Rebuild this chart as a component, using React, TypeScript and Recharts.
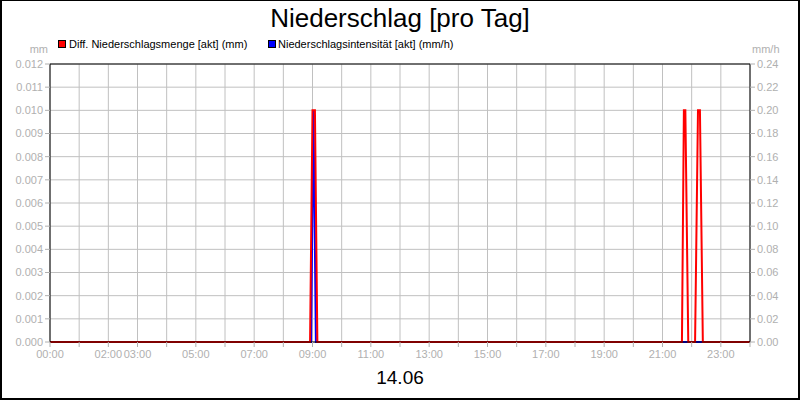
import { CartesianGrid, Line, LineChart, ReferenceLine, XAxis, YAxis } from "recharts";

const RED = "#ff0000";
const BLUE = "#0000ff";
const GRID = "#c0c0c0";
const TICK = "#b0b0b0";
const FONT = "'Liberation Sans', Arial, Helvetica, sans-serif";

// Diff. Niederschlagsmenge [akt] (mm)
const MENGE_TIME = ["00:00", "08:55", "09:00", "09:05", "09:10", "21:40", "21:44", "21:47", "21:53", "22:07", "22:13", "22:17", "22:23", "24:00"];
const MENGE_MM = [0, 0, 0.01, 0.01, 0, 0, 0.01, 0.01, 0, 0, 0.01, 0.01, 0, 0];

// Niederschlagsintensität [akt] (mm/h)
const INTENS_TIME = ["00:00", "08:57", "09:02", "09:07", "24:00"];
const INTENS_MMH = [0, 0, 0.2, 0, 0];

const HOUR_TICKS = [0, 1, 2, 3, 4, 5, 6, 7, 8, 9, 10, 11, 12, 13, 14, 15, 16, 17, 18, 19, 20, 21, 22, 23, 24];
const HOUR_LABELS = ["00:00", "02:00", "03:00", "05:00", "07:00", "09:00", "11:00", "13:00", "15:00", "17:00", "19:00", "21:00", "23:00"];
const MM_TICKS = [0, 0.001, 0.002, 0.003, 0.004, 0.005, 0.006, 0.007, 0.008, 0.009, 0.01, 0.011, 0.012];
const MMH_TICKS = [0, 0.02, 0.04, 0.06, 0.08, 0.1, 0.12, 0.14, 0.16, 0.18, 0.2, 0.22, 0.24];

const toHours = (s: string) => {
  const [h, m] = s.split(":").map(Number);
  return h + m / 60;
};
const menge = MENGE_TIME.map((t, i) => ({ t: toHours(t), v: MENGE_MM[i] }));
const intens = INTENS_TIME.map((t, i) => ({ t: toHours(t), v: INTENS_MMH[i] }));

const hourLabel = (h: number) => {
  const s = `${String(h).padStart(2, "0")}:00`;
  return HOUR_LABELS.includes(s) ? s : "";
};

const tickStyle = { fill: TICK, fontSize: 11, fontFamily: FONT };

export default function App() {
  return (
    <div style={{ position: "absolute", left: 0, top: 0, width: 800, height: 400, background: "#fff" }}>
      <LineChart width={800} height={400} margin={{ top: 64, right: 0, bottom: 38, left: 0 }}>
        <CartesianGrid yAxisId="mm" stroke={GRID} strokeWidth={1} />
        <XAxis
          dataKey="t"
          type="number"
          domain={[0, 24]}
          ticks={HOUR_TICKS}
          interval={0}
          tickFormatter={hourLabel}
          height={20}
          tickSize={5}
          tickMargin={3}
          axisLine={{ stroke: "#000" }}
          tickLine={{ stroke: TICK }}
          tick={tickStyle}
          allowDataOverflow
        />
        <YAxis
          yAxisId="mm"
          domain={[0, 0.012]}
          ticks={MM_TICKS}
          interval={0}
          width={50}
          tickSize={5}
          tickFormatter={(v: number) => v.toFixed(3)}
          axisLine={{ stroke: "#000" }}
          tickLine={{ stroke: TICK }}
          tick={tickStyle}
        />
        <YAxis
          yAxisId="mmh"
          orientation="right"
          domain={[0, 0.24]}
          ticks={MMH_TICKS}
          interval={0}
          width={50}
          tickSize={5}
          tickFormatter={(v: number) => v.toFixed(2)}
          axisLine={{ stroke: "#000" }}
          tickLine={{ stroke: TICK }}
          tick={tickStyle}
        />
        <ReferenceLine yAxisId="mm" y={0.012} stroke="#000" strokeWidth={1} />
        <Line
          yAxisId="mmh"
          data={intens}
          dataKey="v"
          type="linear"
          stroke={BLUE}
          strokeWidth={2}
          dot={false}
          activeDot={false}
          isAnimationActive={false}
        />
        <Line
          yAxisId="mm"
          data={menge}
          dataKey="v"
          type="linear"
          stroke={RED}
          strokeWidth={2}
          dot={false}
          activeDot={false}
          isAnimationActive={false}
        />
      </LineChart>
      <svg
        width={800}
        height={400}
        style={{ position: "absolute", left: 0, top: 0, pointerEvents: "none", fontFamily: FONT }}
      >
        <text x={400} y={27} textAnchor="middle" fontSize={26} fill="#000">
          Niederschlag [pro Tag]
        </text>
        <rect x={58.5} y={40.5} width={7} height={7} fill={RED} stroke="#000" />
        <text x={69} y={48} fontSize={11} fill="#000">
          Diff. Niederschlagsmenge [akt] (mm)
        </text>
        <rect x={268.5} y={40.5} width={7} height={7} fill={BLUE} stroke="#000" />
        <text x={278} y={48} fontSize={11} fill="#000">
          Niederschlagsintensität [akt] (mm/h)
        </text>
        <text x={48} y={53} textAnchor="end" fontSize={11} fill={TICK}>
          mm
        </text>
        <text x={752} y={53} fontSize={11} fill={TICK}>
          mm/h
        </text>
        <text x={400} y={384} textAnchor="middle" fontSize={19} fill="#000">
          14.06
        </text>
        <rect x={0.5} y={0.5} width={799} height={399} fill="none" stroke="#000" />
        <line x1={1} y1={0} x2={1} y2={400} stroke="#000" strokeWidth={2} />
        <line x1={799} y1={0} x2={799} y2={400} stroke="#000" strokeWidth={2} />
        <line x1={0} y1={399} x2={800} y2={399} stroke="#000" strokeWidth={2} />
      </svg>
    </div>
  );
}
